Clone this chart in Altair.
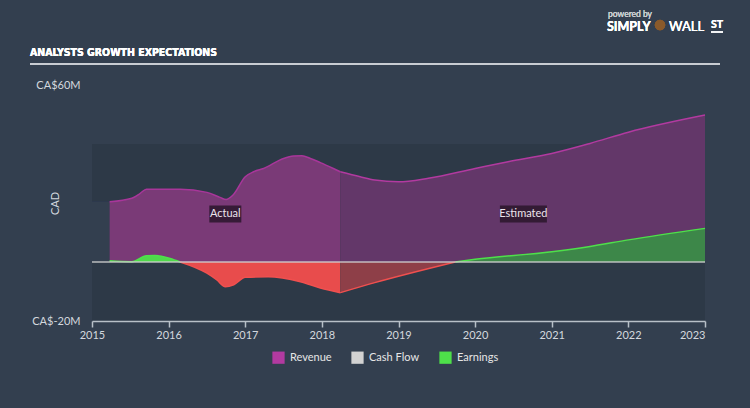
import altair as alt
import pandas as pd

# ---- data (CA$ millions) ----
rev_act_t = [2015.23, 2015.52, 2015.63, 2015.71, 2016.15, 2016.5, 2016.67, 2016.75, 2016.84,
             2017.0, 2017.11, 2017.24, 2017.5, 2017.63, 2017.74, 2017.85, 2017.98, 2018.15, 2018.24]
rev_act_v = [20.4, 21.6, 23.3, 24.7, 24.7, 23.6, 21.9, 21.2, 22.7,
             28.9, 30.6, 31.7, 35.1, 35.9, 36.0, 35.1, 33.7, 31.7, 30.6]
rev_est_t = [2018.24, 2018.5, 2018.69, 2019.0, 2019.39, 2020.0, 2020.43, 2021.0, 2021.5, 2022.0, 2023.0]
rev_est_v = [30.6, 28.9, 27.8, 27.2, 28.4, 31.7, 34.0, 36.8, 40.2, 44.0, 49.8]

earn_act_t = [2015.23, 2015.52, 2015.71, 2015.82, 2016.02, 2016.15, 2016.5, 2016.63, 2016.74,
              2016.85, 2017.0, 2017.3, 2017.72, 2017.98, 2018.24]
earn_act_v = [0.4, 0.1, 2.1, 2.2, 1.2, 0.0, -3.8, -6.1, -8.4,
              -7.7, -5.2, -5.0, -6.7, -8.8, -10.4]
earn_est_t = [2018.24, 2018.69, 2019.74, 2020.0, 2021.0, 2021.48, 2022.0, 2023.0]
earn_est_v = [-10.4, -7.0, 0.0, 0.9, 3.5, 5.2, 7.5, 11.4]

cash_t = [2015.0, 2023.0]
cash_v = [0.0, 0.0]

year_ticks = [2015, 2016, 2017, 2018, 2019, 2020, 2021, 2022, 2023]
y_ticks = [-20, 60]

ann_label = ["Actual", "Estimated"]
ann_t = [2016.74, 2020.63]
ann_v = [16.3, 16.3]

series = ["Revenue", "Cash Flow", "Earnings"]
series_colors = ["#b23aa0", "#d2d2d2", "#4ee04a"]

FONT = "Lato"
TXT = "#d3d8de"
PAGE = "#333f4f"


def frame(t, v):
    return pd.DataFrame({"t": t, "v": v})


rev_act = frame(rev_act_t, rev_act_v)
rev_est = frame(rev_est_t, rev_est_v)
earn_act = frame(earn_act_t, earn_act_v)
earn_est = frame(earn_est_t, earn_est_v)
cash = frame(cash_t, cash_v)
ann = pd.DataFrame({"label": ann_label, "t": ann_t, "v": ann_v})
leg = pd.DataFrame({"series": series})

xscale = alt.Scale(domain=[2015, 2023], nice=False, zero=False)
yscale = alt.Scale(domain=[-20, 60], nice=False, zero=False)

X = alt.X(
    "t:Q", scale=xscale, title=None,
    axis=alt.Axis(
        values=year_ticks, format="d", grid=False, domainColor="#b8c0c8", domainWidth=1.5,
        tickColor="#b8c0c8", tickSize=6, tickWidth=1.5, labelColor=TXT, labelFontSize=11,
        labelFont=FONT, labelPadding=2, labelFlush=False, zindex=1,
        labelAlign={"condition": {"test": "datum.value == 2023", "value": "right"}, "value": "center"},
        labelBound=False,
    ),
)
Y = alt.Y(
    "v:Q", scale=yscale, title="CAD",
    axis=alt.Axis(
        values=y_ticks, grid=False, domain=False, ticks=False, labelColor=TXT, labelFontSize=11,
        labelFont=FONT, labelPadding=12, labelExpr="'CA$' + datum.value + 'M'",
        titleColor=TXT, titleFont=FONT, titleFontSize=11, titleFontWeight="normal",
        titleX=-37, titleY=118, titleAngle=-90, titleAlign="center", titleBaseline="middle",
        labelBound=False,
    ),
)
Z = alt.Y2(datum=0)

bg = alt.Chart(rev_act).mark_rect(color="#2d3947").encode(
    x=alt.X(datum=2015, scale=xscale), x2=alt.X2(datum=2023),
    y=alt.Y(datum=40, scale=yscale), y2=alt.Y2(datum=-20),
)
bg_patch = alt.Chart(rev_act).mark_rect(color=PAGE).encode(
    x=alt.X(datum=2015, scale=xscale), x2=alt.X2(datum=rev_act_t[0]),
    y=alt.Y(datum=rev_act_v[0], scale=yscale), y2=alt.Y2(datum=0),
)

rev_act_area = alt.Chart(rev_act).mark_area(color="#7a3a77", interpolate="monotone").encode(x=X, y=Y, y2=Z)
rev_est_area = alt.Chart(rev_est).mark_area(color="#633769", interpolate="monotone").encode(x=X, y=Y, y2=Z)
rev_act_line = alt.Chart(rev_act).mark_line(color="#a8369a", strokeWidth=1.5, interpolate="monotone").encode(x=X, y=Y)
rev_est_line = alt.Chart(rev_est).mark_line(color="#b23aa0", strokeWidth=1.5, interpolate="monotone").encode(x=X, y=Y)

# earnings, split at the zero crossings (points with value 0 belong to both sides)
ea_pos = alt.Chart(earn_act).transform_filter("datum.v >= 0")
ea_neg = alt.Chart(earn_act).transform_filter("datum.v <= 0")
ee_pos = alt.Chart(earn_est).transform_filter("datum.v >= 0")
ee_neg = alt.Chart(earn_est).transform_filter("datum.v <= 0")

earn_layers = [
    ea_pos.mark_area(color="#4fd84b", interpolate="monotone").encode(x=X, y=Y, y2=Z),
    ea_neg.mark_area(color="#e84c4c", interpolate="monotone").encode(x=X, y=Y, y2=Z),
    ee_pos.mark_area(color="#3d8749", interpolate="monotone").encode(x=X, y=Y, y2=Z),
    ee_neg.mark_area(color="#8e3f48", interpolate="monotone").encode(x=X, y=Y, y2=Z),
]
for src in (ea_pos, ee_pos):
    earn_layers.append(src.mark_line(color="#4ee04a", strokeWidth=1.5, interpolate="monotone").encode(x=X, y=Y))
for src in (ea_neg, ee_neg):
    earn_layers.append(src.mark_line(color="#f0504f", strokeWidth=1.5, interpolate="monotone").encode(x=X, y=Y))

cash_line = alt.Chart(cash).mark_line(color="#d0d0d0", strokeWidth=2, opacity=0.65).encode(x=X, y=Y)

box_a = alt.Chart(ann).transform_filter("datum.label == 'Actual'").mark_rect(
    color="#2a162c", opacity=0.85, width=32, height=17).encode(x=X, y=Y)
box_e = alt.Chart(ann).transform_filter("datum.label == 'Estimated'").mark_rect(
    color="#2a162c", opacity=0.85, width=47, height=17).encode(x=X, y=Y)
ann_text = alt.Chart(ann).mark_text(color="#ece4ec", font=FONT, fontSize=11).encode(x=X, y=Y, text="label:N")

legend_layer = alt.Chart(leg).mark_point(filled=True, shape="square", opacity=0).encode(
    x=alt.value(0), y=alt.value(0),
    color=alt.Color(
        "series:N", scale=alt.Scale(domain=series, range=series_colors),
        legend=alt.Legend(
            orient="none", legendX=180, legendY=266, direction="horizontal", title=None,
            symbolType="square", symbolSize=150, symbolOpacity=1, symbolStrokeWidth=0,
            labelColor="#e6e6e6", labelFont=FONT, labelFontSize=11, labelOffset=5,
            columnPadding=19,
        ),
    ),
)

title_txt = alt.Chart(leg).mark_text(
    text="ANALYSTS GROWTH EXPECTATIONS",
    font="'DejaVu Sans Condensed', 'Liberation Sans Narrow', 'Roboto Condensed', Roboto, sans-serif",
    fontWeight="bold", fontSize=10.5, color="#ffffff", align="left", baseline="middle",
).encode(x=alt.value(-62), y=alt.value(-32))
title_rule = alt.Chart(leg).mark_rule(color="#c8ccd2", strokeWidth=2).encode(
    x=alt.value(-62), x2=alt.value(628), y=alt.value(-21))

logo1 = alt.Chart(leg).mark_text(text="powered by", font=FONT, fontSize=8.5, color="#c8ccd0",
                                 align="left", baseline="middle").encode(x=alt.value(516), y=alt.value(-71))
logo2 = alt.Chart(leg).mark_text(text="SIMPLY", font=FONT, fontWeight="bold", fontSize=12.5, color="#ffffff",
                                 align="left", baseline="middle").encode(x=alt.value(515), y=alt.value(-58))
logo_icon = alt.Chart(leg).mark_point(filled=True, shape="circle", size=110, color="#8a5a2b", opacity=1).encode(
    x=alt.value(568), y=alt.value(-60))
logo3 = alt.Chart(leg).mark_text(text="WALL", font=FONT, fontSize=13, color="#ffffff",
                                 align="left", baseline="middle").encode(x=alt.value(577), y=alt.value(-58))
logo4 = alt.Chart(leg).mark_text(text="ST", font=FONT, fontWeight="bold", fontSize=10.5, color="#ffffff",
                                 align="left", baseline="middle").encode(x=alt.value(619), y=alt.value(-60))
logo_rule = alt.Chart(leg).mark_rule(color="#ffffff", strokeWidth=1.2).encode(
    x=alt.value(619), x2=alt.value(631), y=alt.value(-53))

chart = alt.layer(
    bg, bg_patch, rev_act_area, rev_est_area, rev_act_line, rev_est_line,
    *earn_layers, cash_line, box_a, box_e, ann_text, legend_layer,
    title_txt, title_rule, logo1, logo2, logo_icon, logo3, logo4, logo_rule,
).properties(
    width=613, height=236,
    autosize=alt.AutoSizeParams(type="none"),
    padding={"left": 92, "top": 85, "right": 45, "bottom": 87},
    background=PAGE,
).configure_view(stroke=None)

chart.save("out.html", embed_options={"renderer": "svg", "actions": False})
